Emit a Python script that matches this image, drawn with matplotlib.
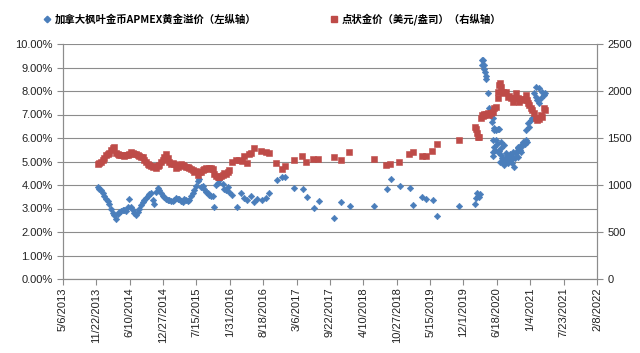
import matplotlib
matplotlib.use('Agg')
import matplotlib.pyplot as plt
from matplotlib.lines import Line2D
import pandas as pd

plt.rcParams['font.family'] = ['Liberation Sans', 'Noto Sans CJK SC']

BLUE = '#4A7EBB'
RED = '#BE4B48'
GRAY = '#8C8C8C'

# 2013-11 .. 2016-01: one reading every 10 days
dense_start = '2013-11-29'
premium_dense = [3.90, 3.82, 3.78, 3.65, 3.55, 3.42, 3.30, 3.18, 3.00, 2.82,
                 2.72, 2.55, 2.78, 2.85, 2.88, 2.94, 2.92, 2.90, 3.05, 3.42,
                 3.05, 2.95, 2.80, 2.72, 2.85, 3.00, 3.15, 3.28, 3.38, 3.45,
                 3.52, 3.60, 3.66, 3.35, 3.18, 3.72, 3.86, 3.78, 3.66, 3.55,
                 3.48, 3.42, 3.38, 3.35, 3.30, 3.34, 3.38, 3.44, 3.42, 3.40,
                 3.32, 3.28, 3.40, 3.36, 3.30, 3.36, 3.52, 3.66, 3.80, 3.95,
                 4.15, 4.25, 3.92, 3.96, 3.85, 3.72, 3.64, 3.58, 3.55, 3.52,
                 3.06, 4.00, 4.08, 4.22, 4.32, 4.05, 3.85, 3.80, 3.90, 3.72]
gold_dense = [1225, 1230, 1240, 1262, 1290, 1318, 1330, 1345, 1370, 1390,
              1400, 1340, 1330, 1322, 1318, 1320, 1312, 1318, 1320, 1330,
              1352, 1340, 1335, 1325, 1315, 1310, 1300, 1295, 1265, 1245,
              1228, 1215, 1205, 1195, 1200, 1185, 1205, 1215, 1245, 1270,
              1300, 1335, 1290, 1250, 1225, 1230, 1228, 1180, 1195, 1210,
              1225, 1215, 1205, 1195, 1190, 1178, 1168, 1158, 1135, 1150,
              1110, 1135, 1140, 1155, 1170, 1178, 1172, 1180, 1185, 1165,
              1120, 1100, 1090, 1085, 1092, 1110, 1125, 1120, 1135, 1155]

# 2016 .. 2019: sparse readings
premium_mid_dates = ['2016-02-15', '2016-03-16', '2016-04-05', '2016-04-25', '2016-05-14',
                     '2016-06-04', '2016-06-23', '2016-07-11', '2016-08-11', '2016-09-01',
                     '2016-09-20', '2016-11-09', '2016-12-09', '2016-12-29', '2017-02-17',
                     '2017-04-11', '2017-05-07', '2017-06-16', '2017-07-16', '2017-10-17',
                     '2017-11-28', '2018-01-20', '2018-06-14', '2018-08-27', '2018-09-22',
                     '2018-11-14', '2019-01-12', '2019-02-04', '2019-03-27', '2019-04-22',
                     '2019-06-01', '2019-06-28', '2019-11-02']
premium_mid = [3.57, 3.08, 3.65, 3.43, 3.36, 3.55, 3.29, 3.40, 3.36, 3.43,
               3.65, 4.21, 4.36, 4.32, 3.89, 3.82, 3.50, 3.04, 3.33, 2.58,
               3.29, 3.09, 3.09, 3.84, 4.26, 3.97, 3.86, 3.16, 3.48, 3.40,
               3.36, 2.68, 3.12]
gold_mid_dates = ['2016-02-15', '2016-03-06', '2016-03-26', '2016-04-14', '2016-04-25',
                  '2016-05-14', '2016-05-24', '2016-06-04', '2016-06-23', '2016-08-02',
                  '2016-09-01', '2016-09-20', '2016-11-05', '2016-12-09', '2016-12-25',
                  '2017-02-17', '2017-04-07', '2017-05-01', '2017-06-10', '2017-07-10',
                  '2017-10-13', '2017-11-24', '2018-01-16', '2018-06-10', '2018-08-24',
                  '2018-09-17', '2018-11-10', '2019-01-07', '2019-01-31', '2019-03-26',
                  '2019-04-18', '2019-05-26', '2019-06-25', '2019-11-05']
gold_mid = [1248, 1270, 1262, 1255, 1310, 1235, 1330, 1345, 1390, 1365,
            1348, 1345, 1235, 1165, 1200, 1262, 1312, 1248, 1276, 1276,
            1294, 1266, 1354, 1276, 1216, 1223, 1245, 1326, 1354, 1312,
            1312, 1365, 1433, 1479]

# 2020 .. 2021
premium_2020_dates = ['2020-02-09', '2020-02-13', '2020-02-19', '2020-02-27', '2020-03-05',
                      '2020-03-07', '2020-03-18', '2020-03-22', '2020-03-26', '2020-03-30',
                      '2020-04-03', '2020-04-07', '2020-04-11', '2020-04-14', '2020-04-23',
                      '2020-04-29', '2020-05-03', '2020-05-13', '2020-05-18', '2020-05-23',
                      '2020-05-29', '2020-06-02', '2020-06-12', '2020-06-22', '2020-06-28',
                      '2020-05-23', '2020-06-12', '2020-07-12', '2020-06-02', '2020-05-23',
                      '2020-06-22', '2020-07-12', '2020-07-22', '2020-08-01', '2020-08-21',
                      '2020-09-10', '2020-09-30', '2020-09-20', '2020-10-10', '2020-10-20',
                      '2020-11-09', '2020-11-29', '2020-12-15', '2020-11-09', '2020-10-20',
                      '2020-08-31', '2020-08-11', '2020-07-12', '2020-08-01', '2020-07-02',
                      '2020-07-17', '2020-07-27', '2020-08-06', '2020-08-16', '2020-08-26',
                      '2020-09-05', '2020-09-15', '2020-09-25', '2020-10-05', '2020-10-15',
                      '2020-10-25', '2020-11-04', '2020-11-14', '2020-11-19', '2020-12-04',
                      '2020-12-09', '2020-06-17', '2020-06-07', '2020-05-28', '2020-07-07',
                      '2020-12-19', '2021-01-06', '2020-12-09', '2020-12-29', '2021-01-17',
                      '2021-01-27', '2021-02-06', '2021-02-26', '2021-03-18', '2021-03-28',
                      '2021-03-08', '2021-02-26', '2021-02-16', '2021-02-06', '2021-04-05']
premium_2020 = [3.20, 3.45, 3.65, 3.55, 3.50, 3.62, 9.10, 9.33, 9.30, 9.10,
                8.95, 8.80, 8.65, 8.50, 7.90, 7.28, 7.12, 6.98, 6.70, 6.84,
                6.34, 6.41, 6.34, 6.40, 6.37, 5.91, 5.91, 5.84, 5.63, 5.42,
                5.42, 5.28, 5.06, 4.85, 4.92, 5.06, 4.75, 5.20, 5.35, 5.56,
                5.70, 5.77, 5.84, 5.42, 5.20, 5.20, 5.35, 5.56, 5.70, 5.45,
                5.15, 4.95, 5.10, 5.25, 5.05, 5.30, 4.95, 5.40, 5.15, 5.45,
                5.60, 5.50, 5.65, 5.85, 5.75, 5.90, 5.75, 5.50, 5.25, 5.00,
                6.62, 6.77, 6.34, 6.48, 6.84, 7.90, 8.18, 8.11, 7.97, 7.83,
                7.69, 7.47, 7.62, 7.76, 7.90]
gold_2020_dates = ['2020-02-06', '2020-02-13', '2020-02-19', '2020-02-27', '2020-03-05',
                   '2020-03-14', '2020-03-20', '2020-03-24', '2020-03-30', '2020-04-03',
                   '2020-04-13', '2020-04-23', '2020-05-03', '2020-05-13', '2020-05-23',
                   '2020-06-02', '2020-06-12', '2020-06-22', '2020-06-27', '2020-07-02',
                   '2020-07-07', '2020-07-12', '2020-07-22', '2020-08-01', '2020-08-11',
                   '2020-08-21', '2020-08-31', '2020-09-10', '2020-09-20', '2020-09-30',
                   '2020-10-10', '2020-10-20', '2020-10-30', '2020-11-09', '2020-11-19',
                   '2020-11-29', '2020-12-09', '2020-12-15', '2020-12-19', '2020-12-29',
                   '2021-01-06', '2021-01-17', '2021-01-27', '2021-02-06', '2021-02-16',
                   '2021-02-26', '2021-03-08', '2021-03-18', '2021-03-28', '2021-04-05']
gold_2020 = [1614, 1600, 1550, 1515, 1510, 1709, 1745, 1730, 1755, 1745,
             1760, 1763, 1750, 1770, 1780, 1815, 1833, 1922, 1990, 2064,
             2082, 2046, 1993, 1975, 1990, 1940, 1950, 1922, 1886, 1930,
             1975, 1930, 1886, 1910, 1904, 1920, 1957, 1900, 1869, 1850,
             1816, 1798, 1763, 1709, 1691, 1700, 1745, 1727, 1816, 1800]

dense_dates = pd.date_range(dense_start, periods=len(premium_dense), freq='10D')
premium_dates = list(dense_dates) + list(pd.to_datetime(premium_mid_dates)) + list(pd.to_datetime(premium_2020_dates))
premium = premium_dense + premium_mid + premium_2020
gold_dates = list(dense_dates) + list(pd.to_datetime(gold_mid_dates)) + list(pd.to_datetime(gold_2020_dates))
gold = gold_dense + gold_mid + gold_2020

x_start = pd.Timestamp('2013-05-06')
x_ticks = pd.date_range(x_start, periods=17, freq='200D')

fig = plt.figure(figsize=(6.4, 3.53), dpi=100)
ax = fig.add_axes([63 / 640, 74 / 353, (597 - 63) / 640, 235 / 353])
ax2 = ax.twinx()

ax.plot(premium_dates, premium, linestyle='none', marker='D', ms=3.3,
        color=BLUE, mec=BLUE, mew=0.4, zorder=3)
ax2.plot(gold_dates, gold, linestyle='none', marker='s', ms=3.9,
         color=RED, mec=RED, mew=0.4, zorder=3)

ax.set_xlim(x_ticks[0], x_ticks[-1])
ax.set_ylim(0, 10)
ax2.set_ylim(0, 2500)
ax.set_yticks(range(0, 11))
ax.set_yticklabels(['%.2f%%' % v for v in range(0, 11)])
ax2.set_yticks(range(0, 2501, 500))
ax.set_xticks(x_ticks)
ax.set_xticklabels([f'{d.month}/{d.day}/{d.year}' for d in x_ticks], rotation=90)

ax.grid(axis='y', color=GRAY, linewidth=0.8)
ax.set_axisbelow(True)
for a in (ax, ax2):
    a.spines['top'].set_visible(False)
    for s in ('left', 'right', 'bottom'):
        a.spines[s].set_color(GRAY)
        a.spines[s].set_linewidth(0.8)
    a.tick_params(colors=GRAY, labelcolor='#222222', labelsize=8, length=4, width=0.8)
ax.tick_params(axis='x', pad=2)

handles = [Line2D([], [], linestyle='none', marker='D', ms=3.3, color=BLUE),
           Line2D([], [], linestyle='none', marker='s', ms=3.9, color=RED)]
labels = ['加拿大枫叶金币APMEX黄金溢价（左纵轴）', '点状金价（美元/盎司）（右纵轴）']
fig.legend(handles, labels, loc='upper left', bbox_to_anchor=(31 / 640, 1 - 4 / 353),
           ncol=2, frameon=False, handletextpad=0.15, handlelength=1.2,
           columnspacing=6.9, prop={'family': ['Noto Sans CJK SC', 'DejaVu Sans'],
                                     'weight': 'bold', 'size': 7.5})

fig.savefig('out.png', dpi=100)
